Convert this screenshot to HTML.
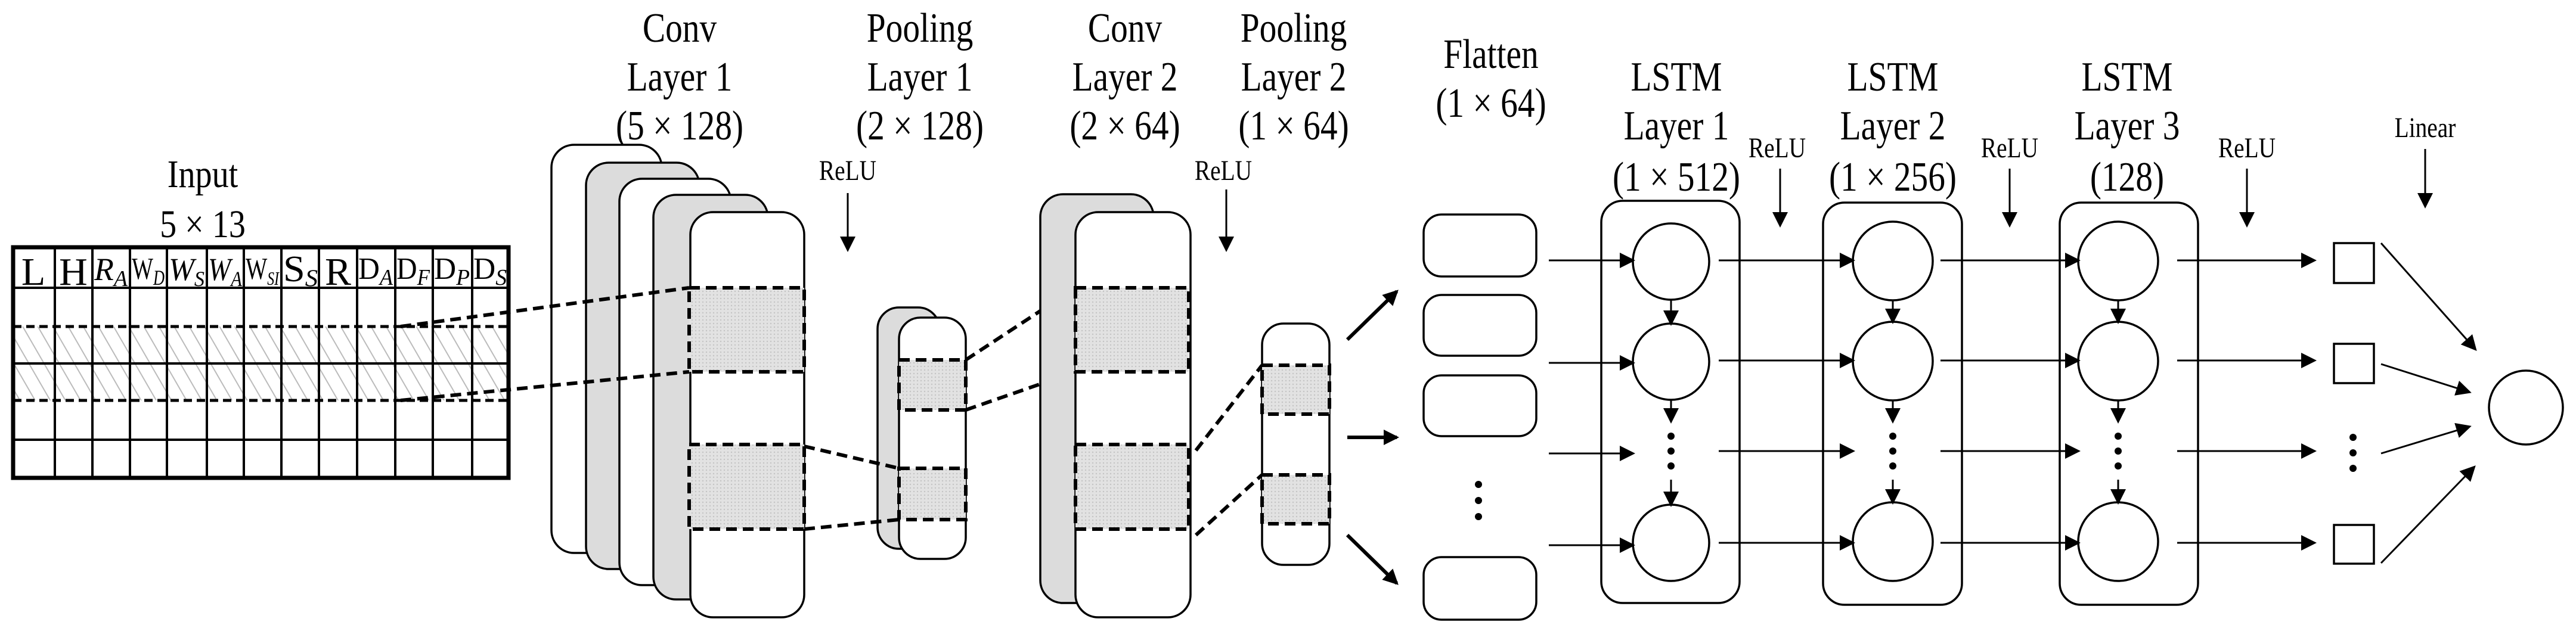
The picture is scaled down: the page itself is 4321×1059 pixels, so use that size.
<!DOCTYPE html>
<html><head><meta charset="utf-8"><style>
html,body{margin:0;padding:0;background:#fff;}
svg{display:block;}
text{font-family:"Liberation Serif",serif;fill:#000;}
</style></head><body>
<svg width="4321" height="1059" viewBox="0 0 4321 1059" xmlns="http://www.w3.org/2000/svg">
<defs>
<pattern id="hatch" width="22" height="22" patternUnits="userSpaceOnUse" patternTransform="rotate(-30)">
<rect width="22" height="22" fill="#fff"/>
<line x1="0" y1="0" x2="0" y2="22" stroke="#bbb" stroke-width="4"/>
</pattern>
<pattern id="dots" width="6" height="6" patternUnits="userSpaceOnUse">
<rect width="6" height="6" fill="#e2e2e2"/>
<circle cx="3" cy="3" r="1.2" fill="#c4c4c4"/>
</pattern>
<marker id="ahb" markerWidth="26" markerHeight="26" refX="22" refY="13" orient="auto" markerUnits="userSpaceOnUse" viewBox="0 0 26 26">
<path d="M0,0 L26,13 L0,26 z" fill="#000"/>
</marker>
</defs>

<!-- Input -->
<g font-size="66" text-anchor="middle">
<text transform="translate(340,314) scale(0.85,1)">Input</text>
<text transform="translate(340,398) scale(0.85,1)">5 × 13</text>
</g>
<rect x="22" y="548" width="831" height="124" fill="url(#hatch)"/>
<g stroke="#000" stroke-width="4" fill="none">
<line x1="22" y1="483" x2="853" y2="483"/>
<line x1="22" y1="738" x2="853" y2="738"/>
<line x1="22" y1="610" x2="853" y2="610"/>
<line x1="92" y1="415" x2="92" y2="802"/><line x1="155" y1="415" x2="155" y2="802"/>
<line x1="218" y1="415" x2="218" y2="802"/><line x1="280" y1="415" x2="280" y2="802"/>
<line x1="347" y1="415" x2="347" y2="802"/><line x1="409" y1="415" x2="409" y2="802"/>
<line x1="472" y1="415" x2="472" y2="802"/><line x1="535" y1="415" x2="535" y2="802"/>
<line x1="599" y1="415" x2="599" y2="802"/><line x1="663" y1="415" x2="663" y2="802"/>
<line x1="726" y1="415" x2="726" y2="802"/><line x1="792" y1="415" x2="792" y2="802"/>
</g>
<g stroke="#000" stroke-width="5" stroke-dasharray="14,8" fill="none">
<line x1="22" y1="548" x2="853" y2="548"/>
<line x1="22" y1="672" x2="853" y2="672"/>
</g>
<rect x="22" y="415" width="831" height="387" fill="none" stroke="#000" stroke-width="7"/>
<g font-size="66">
<text x="56" y="478" text-anchor="middle">L</text>
<text x="123" y="478" text-anchor="middle">H</text>
<text x="567" y="478" text-anchor="middle">R</text>
</g>
<g>
<text x="158" y="470" font-style="italic" font-size="54" textLength="56" lengthAdjust="spacingAndGlyphs">R<tspan font-size="38" dy="10">A</tspan></text>
<text x="221" y="468" font-size="52" textLength="55" lengthAdjust="spacingAndGlyphs">W<tspan font-size="36" font-style="italic" dy="10">D</tspan></text>
<text x="283" y="470" font-size="54" font-style="italic" textLength="60" lengthAdjust="spacingAndGlyphs">W<tspan font-size="36" dy="10">S</tspan></text>
<text x="349" y="470" font-size="54" font-style="italic" textLength="57" lengthAdjust="spacingAndGlyphs">W<tspan font-size="36" dy="10">A</tspan></text>
<text x="412" y="468" font-size="52" textLength="56" lengthAdjust="spacingAndGlyphs">W<tspan font-size="32" font-style="italic" dy="10">SI</tspan></text>
<text x="475" y="472" font-size="62" textLength="58" lengthAdjust="spacingAndGlyphs">S<tspan font-size="40" font-style="italic" dy="8">S</tspan></text>
<text x="601" y="468" font-size="52" textLength="58" lengthAdjust="spacingAndGlyphs">D<tspan font-size="38" font-style="italic" dy="10">A</tspan></text>
<text x="665" y="468" font-size="52" textLength="56" lengthAdjust="spacingAndGlyphs">D<tspan font-size="38" font-style="italic" dy="10">F</tspan></text>
<text x="728" y="468" font-size="52" textLength="60" lengthAdjust="spacingAndGlyphs">D<tspan font-size="38" font-style="italic" dy="10">P</tspan></text>
<text x="794" y="468" font-size="52" textLength="56" lengthAdjust="spacingAndGlyphs">D<tspan font-size="38" font-style="italic" dy="10">S</tspan></text>
</g>

<!-- Titles -->
<g font-size="70" text-anchor="middle">
<text transform="translate(1140,70) scale(0.82,1)">Conv</text><text transform="translate(1140,152) scale(0.82,1)">Layer 1</text><text transform="translate(1140,234) scale(0.82,1)">(5 × 128)</text>
<text transform="translate(1543,70) scale(0.82,1)">Pooling</text><text transform="translate(1543,152) scale(0.82,1)">Layer 1</text><text transform="translate(1543,234) scale(0.82,1)">(2 × 128)</text>
<text transform="translate(1887,70) scale(0.82,1)">Conv</text><text transform="translate(1887,152) scale(0.82,1)">Layer 2</text><text transform="translate(1887,234) scale(0.82,1)">(2 × 64)</text>
<text transform="translate(2170,70) scale(0.82,1)">Pooling</text><text transform="translate(2170,152) scale(0.82,1)">Layer 2</text><text transform="translate(2170,234) scale(0.82,1)">(1 × 64)</text>
<text transform="translate(2501,114) scale(0.82,1)">Flatten</text><text transform="translate(2501,196) scale(0.82,1)">(1 × 64)</text>
<text transform="translate(2812,152) scale(0.82,1)">LSTM</text><text transform="translate(2812,234) scale(0.82,1)">Layer 1</text><text transform="translate(2812,320) scale(0.82,1)">(1 × 512)</text>
<text transform="translate(3175,152) scale(0.82,1)">LSTM</text><text transform="translate(3175,234) scale(0.82,1)">Layer 2</text><text transform="translate(3175,320) scale(0.82,1)">(1 × 256)</text>
<text transform="translate(3568,152) scale(0.82,1)">LSTM</text><text transform="translate(3568,234) scale(0.82,1)">Layer 3</text><text transform="translate(3568,320) scale(0.82,1)">(128)</text>
</g>
<g font-size="48" text-anchor="middle">
<text transform="translate(1422,302) scale(0.82,1)">ReLU</text>
<text transform="translate(2052,302) scale(0.82,1)">ReLU</text>
<text transform="translate(2981,264) scale(0.82,1)">ReLU</text>
<text transform="translate(3371,264) scale(0.82,1)">ReLU</text>
<text transform="translate(3769,264) scale(0.82,1)">ReLU</text>
<text transform="translate(4068,230) scale(0.82,1)">Linear</text>
</g>
<g stroke="#000" stroke-width="3" marker-end="url(#ahb)">
<line x1="1422" y1="324" x2="1422" y2="419"/>
<line x1="2057" y1="318" x2="2057" y2="419"/>
<line x1="2986" y1="283" x2="2986" y2="378"/>
<line x1="3371" y1="283" x2="3371" y2="378"/>
<line x1="3769" y1="283" x2="3769" y2="378"/>
<line x1="4068" y1="250" x2="4068" y2="346"/>
</g>

<!-- Conv Layer 1 -->
<g stroke="#000" stroke-width="3.5">
<rect x="925" y="243" width="185" height="685" rx="38" fill="#fff"/>
<rect x="983" y="273" width="190" height="682" rx="38" fill="#dcdcdc"/>
<rect x="1039" y="300" width="187" height="682" rx="38" fill="#fff"/>
<rect x="1096" y="327" width="192" height="679" rx="38" fill="#dcdcdc"/>
<rect x="1158" y="356" width="191" height="680" rx="38" fill="#fff"/>
</g>
<rect x="1156" y="483" width="193" height="141" fill="url(#dots)"/>
<rect x="1156" y="746" width="193" height="142" fill="url(#dots)"/>
<g stroke="#000" stroke-width="6" stroke-dasharray="18,10" fill="none">
<rect x="1156" y="483" width="193" height="141"/>
<rect x="1156" y="746" width="193" height="142"/>
<line x1="672" y1="548" x2="1156" y2="483"/>
<line x1="672" y1="672" x2="1156" y2="624"/>
</g>

<!-- Pooling 1 -->
<g stroke="#000" stroke-width="3.5">
<rect x="1472" y="516" width="104" height="405" rx="36" fill="#dcdcdc"/>
<rect x="1508" y="533" width="112" height="405" rx="36" fill="#fff"/>
</g>
<rect x="1508" y="604" width="112" height="84" fill="url(#dots)"/>
<rect x="1508" y="786" width="112" height="86" fill="url(#dots)"/>
<g stroke="#000" stroke-width="6" stroke-dasharray="18,10" fill="none">
<rect x="1508" y="604" width="112" height="84"/>
<rect x="1508" y="786" width="112" height="86"/>
<line x1="1349" y1="749" x2="1508" y2="786"/>
<line x1="1349" y1="888" x2="1508" y2="872"/>
<line x1="1620" y1="604" x2="1804" y2="483"/>
<line x1="1620" y1="688" x2="1804" y2="624"/>
</g>

<!-- Conv 2 -->
<g stroke="#000" stroke-width="3.5">
<rect x="1745" y="326" width="190" height="686" rx="38" fill="#dcdcdc"/>
<rect x="1804" y="356" width="193" height="680" rx="38" fill="#fff"/>
</g>
<rect x="1804" y="483" width="190" height="141" fill="url(#dots)"/>
<rect x="1804" y="746" width="190" height="142" fill="url(#dots)"/>
<g stroke="#000" stroke-width="6" stroke-dasharray="18,10" fill="none">
<rect x="1804" y="483" width="190" height="141"/>
<rect x="1804" y="746" width="190" height="142"/>
<line x1="2006" y1="756" x2="2117" y2="613"/>
<line x1="2006" y1="898" x2="2117" y2="797"/>
</g>

<!-- Pooling 2 -->
<rect x="2117" y="543" width="113" height="405" rx="36" fill="#fff" stroke="#000" stroke-width="3.5"/>
<rect x="2117" y="613" width="113" height="82" fill="url(#dots)"/>
<rect x="2117" y="797" width="113" height="82" fill="url(#dots)"/>
<g stroke="#000" stroke-width="6" stroke-dasharray="18,10" fill="none">
<rect x="2117" y="613" width="113" height="82"/>
<rect x="2117" y="797" width="113" height="82"/>
</g>
<g stroke="#000" stroke-width="6" marker-end="url(#ahb)">
<line x1="2260" y1="570" x2="2343" y2="489"/>
<line x1="2260" y1="734" x2="2343" y2="734"/>
<line x1="2260" y1="898" x2="2343" y2="979"/>
</g>

<!-- Flatten -->
<g stroke="#000" stroke-width="3.5" fill="#fff">
<rect x="2388" y="360" width="189" height="104" rx="30"/>
<rect x="2388" y="495" width="189" height="102" rx="30"/>
<rect x="2388" y="630" width="189" height="102" rx="30"/>
<rect x="2388" y="935" width="189" height="105" rx="30"/>
</g>
<g fill="#000"><circle cx="2480" cy="813" r="6"/><circle cx="2480" cy="840" r="6"/><circle cx="2480" cy="867" r="6"/></g>

<!-- LSTM -->
<g stroke="#000" stroke-width="3.5" fill="none">
<rect x="2686" y="337" width="232" height="675" rx="36"/>
<rect x="3058" y="340" width="233" height="675" rx="36"/>
<rect x="3455" y="340" width="232" height="675" rx="36"/>
<ellipse cx="2803" cy="439" rx="64" ry="64"/><ellipse cx="2803" cy="607" rx="64" ry="64"/><ellipse cx="2803" cy="911" rx="64" ry="64"/>
<ellipse cx="3175" cy="438" rx="67" ry="66"/><ellipse cx="3175" cy="606" rx="67" ry="66"/><ellipse cx="3175" cy="909" rx="67" ry="66"/>
<ellipse cx="3553" cy="438" rx="67" ry="66"/><ellipse cx="3553" cy="606" rx="67" ry="66"/><ellipse cx="3553" cy="909" rx="67" ry="66"/>
<rect x="3915" y="408" width="67" height="67"/>
<rect x="3915" y="577" width="67" height="66"/>
<rect x="3915" y="881" width="67" height="65"/>
<ellipse cx="4237" cy="684" rx="62" ry="62"/>
</g>
<g fill="#000">
<circle cx="2803" cy="732" r="6"/><circle cx="2803" cy="757" r="6"/><circle cx="2803" cy="782" r="6"/>
<circle cx="3175" cy="732" r="6"/><circle cx="3175" cy="757" r="6"/><circle cx="3175" cy="782" r="6"/>
<circle cx="3553" cy="732" r="6"/><circle cx="3553" cy="757" r="6"/><circle cx="3553" cy="782" r="6"/>
<circle cx="3947" cy="734" r="6"/><circle cx="3947" cy="760" r="6"/><circle cx="3947" cy="786" r="6"/>
</g>
<g stroke="#000" stroke-width="3" marker-end="url(#ahb)">
<line x1="2803" y1="503" x2="2803" y2="543"/><line x1="2803" y1="671" x2="2803" y2="707"/><line x1="2803" y1="805" x2="2803" y2="847"/>
<line x1="3175" y1="504" x2="3175" y2="540"/><line x1="3175" y1="672" x2="3175" y2="707"/><line x1="3175" y1="805" x2="3175" y2="843"/>
<line x1="3553" y1="504" x2="3553" y2="540"/><line x1="3553" y1="672" x2="3553" y2="707"/><line x1="3553" y1="805" x2="3553" y2="843"/>
<line x1="2598" y1="437" x2="2739" y2="437"/><line x1="2598" y1="609" x2="2739" y2="609"/><line x1="2598" y1="761" x2="2739" y2="761"/><line x1="2598" y1="915" x2="2739" y2="915"/>
<line x1="2883" y1="437" x2="3108" y2="437"/><line x1="2883" y1="605" x2="3108" y2="605"/><line x1="2883" y1="757" x2="3108" y2="757"/><line x1="2883" y1="911" x2="3108" y2="911"/>
<line x1="3255" y1="437" x2="3486" y2="437"/><line x1="3255" y1="605" x2="3486" y2="605"/><line x1="3255" y1="757" x2="3486" y2="757"/><line x1="3255" y1="911" x2="3486" y2="911"/>
<line x1="3652" y1="437" x2="3882" y2="437"/><line x1="3652" y1="605" x2="3882" y2="605"/><line x1="3652" y1="757" x2="3882" y2="757"/><line x1="3652" y1="911" x2="3882" y2="911"/>
<line x1="3994" y1="408" x2="4152" y2="586"/>
<line x1="3994" y1="611" x2="4142" y2="658"/>
<line x1="3994" y1="761" x2="4142" y2="716"/>
<line x1="3994" y1="945" x2="4150" y2="784"/>
</g>
</svg>
</body></html>
